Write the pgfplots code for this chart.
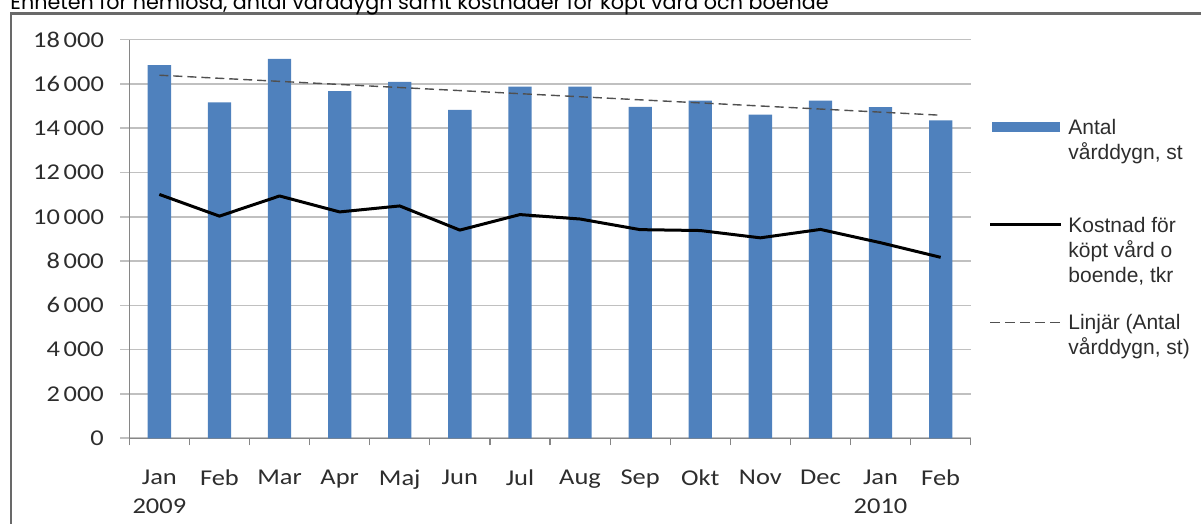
\documentclass[border=0pt]{standalone}
\usepackage{pgfplots}
\usepackage{pgfplotstable}
\pgfplotsset{compat=1.18}
\usepackage{fontspec}
\setmainfont{Liberation Sans}
\newfontfamily\carlito[FakeStretch=1.17]{Carlito}
\newfontfamily\titlefont{Poppins}
\definecolor{barblue}{RGB}{79,129,189}
\definecolor{gridgray}{RGB}{192,192,192}
\definecolor{axisgray}{RGB}{134,134,134}
\definecolor{labgray}{RGB}{45,45,45}
\definecolor{framegray}{RGB}{105,105,105}
\definecolor{trendgray}{RGB}{80,80,80}

\pgfplotstableread{
x bars cost
0 16850 11010
1 15170 10030
2 17130 10940
3 15670 10220
4 16090 10490
5 14830 9400
6 15880 10100
7 15880 9900
8 14960 9420
9 15240 9380
10 14610 9050
11 15240 9430
12 14950 8830
13 14350 8170
}\datatable

\begin{document}
\begin{tikzpicture}[x=0.5pt,y=0.5pt]
\begin{axis}[
  scale only axis, width=420.7pt, height=199.35pt,
  at={(64.65pt,42.85pt)}, anchor=south west,
  xmin=-0.5, xmax=13.5, ymin=0, ymax=18000,
  axis lines*=left,
  axis line style={draw=axisgray, line width=0.6pt},
  ytick={0,2000,...,18000},
  ymajorgrids, grid style={draw=gridgray, line width=0.8pt},
  tick align=outside, major tick length=4.5pt, minor tick length=3.5pt,
  ytick style={draw=gridgray, line width=0.8pt},
  xtick={0,...,13},
  major x tick style={draw=none},
  minor xtick={-0.5,0.5,...,13.5},
  minor x tick style={draw=axisgray, line width=0.6pt},
  xticklabels={{Jan\\2009},Feb,Mar,Apr,Maj,Jun,Jul,Aug,Sep,Okt,Nov,Dec,{Jan\\2010},Feb},
  xticklabel style={align=center, inner sep=0pt, anchor=north, yshift=-11pt, font=\carlito\fontsize{11.3}{14.6}\selectfont, text=labgray},
  yticklabel style={inner sep=0pt, anchor=east, xshift=-8pt, font=\carlito\fontsize{11.3}{13}\selectfont, text=labgray},
  scaled y ticks=false,
  /pgf/number format/1000 sep={\,},
  /pgf/number format/assume math mode=true,
  clip=false,
]
\addplot[ybar, bar width=11.65pt, fill=barblue, draw=none] table[x=x,y=bars]{\datatable};
\addplot[trendgray, line width=0.7pt, dash pattern=on 4.5pt off 2.5pt] coordinates {(0,16392) (13,14586)};
\addplot[black, line width=1.5pt, line join=round] table[x=x,y=cost]{\datatable};
\end{axis}
% frame
\draw[framegray, line width=1.4pt] (11,-20) -- (11,510.5) -- (1230,510.5);
% legend
\fill[barblue] (992,391.7) rectangle (1060,402.3);
\draw[black, line width=1.5pt] (990,299) -- (1061,299);
\draw[trendgray, line width=0.7pt, dash pattern=on 5pt off 2.5pt] (990,201.3) -- (1062,201.3);
\begin{scope}[every node/.style={anchor=base west, inner sep=0pt, font=\fontsize{10.5}{12.5}\selectfont, text=labgray}]
\node at (1068,389.7) {Antal};
\node at (1068,364.7) {vårddygn, st};
\node at (1068,291.3) {Kostnad för};
\node at (1068,266.3) {köpt vård o};
\node at (1068,241.3) {boende, tkr};
\node at (1068,194) {Linjär (Antal};
\node at (1068,169) {vårddygn, st)};
\end{scope}
% title (cut at the top, as in the reference)
\node[anchor=base west, inner sep=0pt, font=\titlefont\fontsize{10.35}{12}\selectfont] at (10,514.5) {Enheten för hemlösa, antal vårddygn samt kostnader för köpt vård och boende};
\pgfresetboundingbox
\useasboundingbox (0,0) rectangle (1201,524);
\end{tikzpicture}
\end{document}
